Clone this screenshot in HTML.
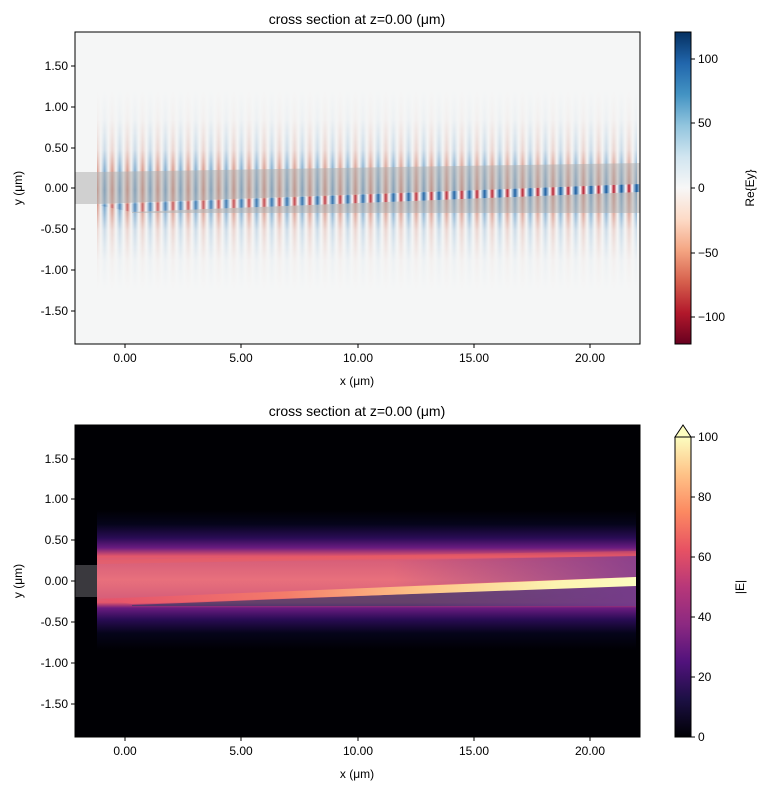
<!DOCTYPE html>
<html><head><meta charset="utf-8"><style>
body{margin:0;background:#fff;}
svg text{font-family:"Liberation Sans","DejaVu Sans",sans-serif;fill:#000;}
</style></head><body>
<svg width="767" height="790" xmlns="http://www.w3.org/2000/svg">
<defs>
  <linearGradient id="stripeG" x1="0" x2="1" y1="0" y2="0">
    <stop offset="0" stop-color="#c4573f"/>
    <stop offset="0.25" stop-color="#f4f3f2"/>
    <stop offset="0.5" stop-color="#2e77b3"/>
    <stop offset="0.75" stop-color="#f4f3f2"/>
    <stop offset="1" stop-color="#c4573f"/>
  </linearGradient>
  <pattern id="stripes" patternUnits="userSpaceOnUse" x="97" y="0" width="15.2" height="800">
    <rect width="15.2" height="800" fill="url(#stripeG)"/>
  </pattern>
  <linearGradient id="strongG" x1="0" x2="1" y1="0" y2="0">
    <stop offset="0" stop-color="#b2182b"/>
    <stop offset="0.2" stop-color="#ffffff"/>
    <stop offset="0.5" stop-color="#155a9e"/>
    <stop offset="0.8" stop-color="#ffffff"/>
    <stop offset="1" stop-color="#b2182b"/>
  </linearGradient>
  <pattern id="strong" patternUnits="userSpaceOnUse" x="97" y="0" width="15.2" height="800">
    <rect width="15.2" height="800" fill="url(#strongG)"/>
  </pattern>
  <linearGradient id="vfade" x1="0" x2="0" y1="0" y2="1">
    <stop offset="0" stop-color="#fff" stop-opacity="0"/>
    <stop offset="0.15" stop-color="#fff" stop-opacity="0.04"/>
    <stop offset="0.3" stop-color="#fff" stop-opacity="0.2"/>
    <stop offset="0.4" stop-color="#fff" stop-opacity="0.55"/>
    <stop offset="0.5" stop-color="#fff" stop-opacity="0.8"/>
    <stop offset="0.6" stop-color="#fff" stop-opacity="0.55"/>
    <stop offset="0.7" stop-color="#fff" stop-opacity="0.2"/>
    <stop offset="0.85" stop-color="#fff" stop-opacity="0.04"/>
    <stop offset="1" stop-color="#fff" stop-opacity="0"/>
  </linearGradient>
  <mask id="m1" maskUnits="userSpaceOnUse" x="0" y="0" width="767" height="790">
    <rect x="97" y="90" width="543" height="200" fill="url(#vfade)"/>
  </mask>
  <linearGradient id="hfade" x1="0" x2="1">
    <stop offset="0" stop-color="#fff" stop-opacity="0.35"/>
    <stop offset="0.5" stop-color="#fff" stop-opacity="0.7"/>
    <stop offset="1" stop-color="#fff" stop-opacity="1"/>
  </linearGradient>
  <mask id="m2" maskUnits="userSpaceOnUse" x="0" y="0" width="767" height="790">
    <rect x="97" y="150" width="543" height="80" fill="url(#hfade)"/>
  </mask>
  <linearGradient id="rdbu" x1="0" x2="0" y1="0" y2="1">
    <stop offset="0" stop-color="#053061"/>
    <stop offset="0.1" stop-color="#2166ac"/>
    <stop offset="0.2" stop-color="#4393c3"/>
    <stop offset="0.3" stop-color="#92c5de"/>
    <stop offset="0.4" stop-color="#d1e5f0"/>
    <stop offset="0.5" stop-color="#f7f7f7"/>
    <stop offset="0.6" stop-color="#fddbc7"/>
    <stop offset="0.7" stop-color="#f4a582"/>
    <stop offset="0.8" stop-color="#d6604d"/>
    <stop offset="0.9" stop-color="#b2182b"/>
    <stop offset="1" stop-color="#67001f"/>
  </linearGradient>
  <linearGradient id="magma" x1="0" x2="0" y1="0" y2="1">
    <stop offset="0" stop-color="#fcfdbf"/>
    <stop offset="0.125" stop-color="#fec287"/>
    <stop offset="0.25" stop-color="#fc8961"/>
    <stop offset="0.375" stop-color="#e75263"/>
    <stop offset="0.5" stop-color="#b73779"/>
    <stop offset="0.625" stop-color="#8c2981"/>
    <stop offset="0.75" stop-color="#51127c"/>
    <stop offset="0.875" stop-color="#1c1044"/>
    <stop offset="1" stop-color="#000004"/>
  </linearGradient>
  <linearGradient id="bodyE" x1="0" x2="0" y1="0" y2="1">
    <stop offset="0" stop-color="#000004"/>
    <stop offset="0.1" stop-color="#05041a"/>
    <stop offset="0.2" stop-color="#2a0c55"/>
    <stop offset="0.27" stop-color="#6a1c80"/>
    <stop offset="0.33" stop-color="#e3576a"/>
    <stop offset="0.37" stop-color="#d8607a"/>
    <stop offset="0.5" stop-color="#e8707c"/>
    <stop offset="0.62" stop-color="#d8607a"/>
    <stop offset="0.66" stop-color="#e3576a"/>
    <stop offset="0.7" stop-color="#6a1c80"/>
    <stop offset="0.78" stop-color="#2a0c55"/>
    <stop offset="0.88" stop-color="#05041a"/>
    <stop offset="1" stop-color="#000004"/>
  </linearGradient>
  <linearGradient id="brightG" x1="0" x2="1">
    <stop offset="0" stop-color="#e8506a" stop-opacity="0.7"/>
    <stop offset="0.35" stop-color="#f47c6a"/>
    <stop offset="0.6" stop-color="#fdc487"/>
    <stop offset="0.85" stop-color="#fcf4b0"/>
    <stop offset="1" stop-color="#fcfcc0"/>
  </linearGradient>
  <linearGradient id="purpR" x1="0" x2="1">
    <stop offset="0" stop-color="#7a3a90" stop-opacity="0"/>
    <stop offset="0.55" stop-color="#7a3a90" stop-opacity="0"/>
    <stop offset="1" stop-color="#7a3a90" stop-opacity="0.8"/>
  </linearGradient>
</defs>

<!-- TOP PLOT -->
<text x="357" y="24" font-size="14" text-anchor="middle">cross section at z=0.00 (μm)</text>
<rect x="75" y="32" width="565" height="312" fill="#f5f6f6"/>
<rect x="97" y="60" width="540" height="260" fill="url(#stripes)" mask="url(#m1)"/>
<polygon points="97,205 640,184 640,192 132,212" fill="url(#strong)" mask="url(#m2)"/>
<polygon points="75,172 97,172 640,163 640,184 97,204 75,204" fill="#b0b0b0" opacity="0.55"/>
<polygon points="132,212 640,192 640,213 132,213" fill="#b0b0b0" opacity="0.55"/>
<rect x="75" y="32" width="565" height="312" fill="none" stroke="#000" stroke-width="1"/>
<g font-size="12" text-anchor="end">
  <g stroke="#000"><line x1="71" x2="75" y1="66" y2="66"/><line x1="71" x2="75" y1="107" y2="107"/><line x1="71" x2="75" y1="148" y2="148"/><line x1="71" x2="75" y1="188" y2="188"/><line x1="71" x2="75" y1="229" y2="229"/><line x1="71" x2="75" y1="270" y2="270"/><line x1="71" x2="75" y1="311" y2="311"/></g>
  <text x="68" y="70">1.50</text><text x="68" y="111">1.00</text><text x="68" y="152">0.50</text><text x="68" y="192">0.00</text><text x="68" y="233">-0.50</text><text x="68" y="274">-1.00</text><text x="68" y="315">-1.50</text>
</g>
<g font-size="12" text-anchor="middle">
  <g stroke="#000"><line x1="125" x2="125" y1="344" y2="348"/><line x1="241" x2="241" y1="344" y2="348"/><line x1="358" x2="358" y1="344" y2="348"/><line x1="474" x2="474" y1="344" y2="348"/><line x1="590" x2="590" y1="344" y2="348"/></g>
  <text x="125" y="362">0.00</text><text x="241" y="362">5.00</text><text x="358" y="362">10.00</text><text x="474" y="362">15.00</text><text x="590" y="362">20.00</text>
  <text x="357" y="385">x (μm)</text>
</g>
<text font-size="12" text-anchor="middle" transform="translate(22,188) rotate(-90)">y (μm)</text>
<rect x="675" y="32" width="16" height="312" fill="url(#rdbu)" stroke="#000" stroke-width="1"/>
<g font-size="12" stroke="#000"><line x1="691" x2="695" y1="59" y2="59"/><line x1="691" x2="695" y1="123" y2="123"/><line x1="691" x2="695" y1="188" y2="188"/><line x1="691" x2="695" y1="253" y2="253"/><line x1="691" x2="695" y1="317" y2="317"/></g>
<g font-size="12"><text x="698" y="63">100</text><text x="698" y="127">50</text><text x="698" y="192">0</text><text x="698" y="257">−50</text><text x="698" y="321">−100</text></g>
<text font-size="12" text-anchor="middle" transform="translate(754,188) rotate(-90)">Re{Ey}</text>

<!-- BOTTOM PLOT -->
<text x="357" y="416" font-size="14" text-anchor="middle">cross section at z=0.00 (μm)</text>
<rect x="75" y="425" width="565" height="312" fill="#000004"/>
<rect x="97" y="510" width="539" height="140" fill="url(#bodyE)"/>
<rect x="75" y="565" width="22" height="32" fill="#3a393e"/>
<polygon points="97,565 636,556 636,577 97,597" fill="url(#purpR)"/>
<polygon points="132,605 636,585 636,606 132,606" fill="#3c3a6a" opacity="0.75"/>
<polygon points="132,605 636,585 636,606 132,606" fill="url(#purpR)"/>
<polygon points="97,599 636,577 636,586 132,604" fill="url(#brightG)"/>
<polygon points="97,560 636,551 636,555 97,564" fill="#f06060" opacity="0.4"/>
<rect x="75" y="425" width="565" height="312" fill="none" stroke="#000" stroke-width="1"/>
<g font-size="12" text-anchor="end">
  <g stroke="#000"><line x1="71" x2="75" y1="459" y2="459"/><line x1="71" x2="75" y1="499" y2="499"/><line x1="71" x2="75" y1="540" y2="540"/><line x1="71" x2="75" y1="581" y2="581"/><line x1="71" x2="75" y1="622" y2="622"/><line x1="71" x2="75" y1="663" y2="663"/><line x1="71" x2="75" y1="704" y2="704"/></g>
  <text x="68" y="463">1.50</text><text x="68" y="503">1.00</text><text x="68" y="544">0.50</text><text x="68" y="585">0.00</text><text x="68" y="626">-0.50</text><text x="68" y="667">-1.00</text><text x="68" y="708">-1.50</text>
</g>
<g font-size="12" text-anchor="middle">
  <g stroke="#000"><line x1="125" x2="125" y1="737" y2="741"/><line x1="241" x2="241" y1="737" y2="741"/><line x1="358" x2="358" y1="737" y2="741"/><line x1="474" x2="474" y1="737" y2="741"/><line x1="590" x2="590" y1="737" y2="741"/></g>
  <text x="125" y="755">0.00</text><text x="241" y="755">5.00</text><text x="358" y="755">10.00</text><text x="474" y="755">15.00</text><text x="590" y="755">20.00</text>
  <text x="357" y="778">x (μm)</text>
</g>
<text font-size="12" text-anchor="middle" transform="translate(22,581) rotate(-90)">y (μm)</text>
<polygon points="675,437 683,425 691,437" fill="#fcfdbf" stroke="#000" stroke-width="1"/>
<rect x="675" y="437" width="16" height="300" fill="url(#magma)" stroke="#000" stroke-width="1"/>
<g stroke="#000"><line x1="691" x2="695" y1="437" y2="437"/><line x1="691" x2="695" y1="497" y2="497"/><line x1="691" x2="695" y1="557" y2="557"/><line x1="691" x2="695" y1="617" y2="617"/><line x1="691" x2="695" y1="677" y2="677"/><line x1="691" x2="695" y1="737" y2="737"/></g>
<g font-size="12"><text x="698" y="441">100</text><text x="698" y="501">80</text><text x="698" y="561">60</text><text x="698" y="621">40</text><text x="698" y="681">20</text><text x="698" y="741">0</text></g>
<text font-size="12" text-anchor="middle" transform="translate(744,587) rotate(-90)">|E|</text>
</svg>
</body></html>
